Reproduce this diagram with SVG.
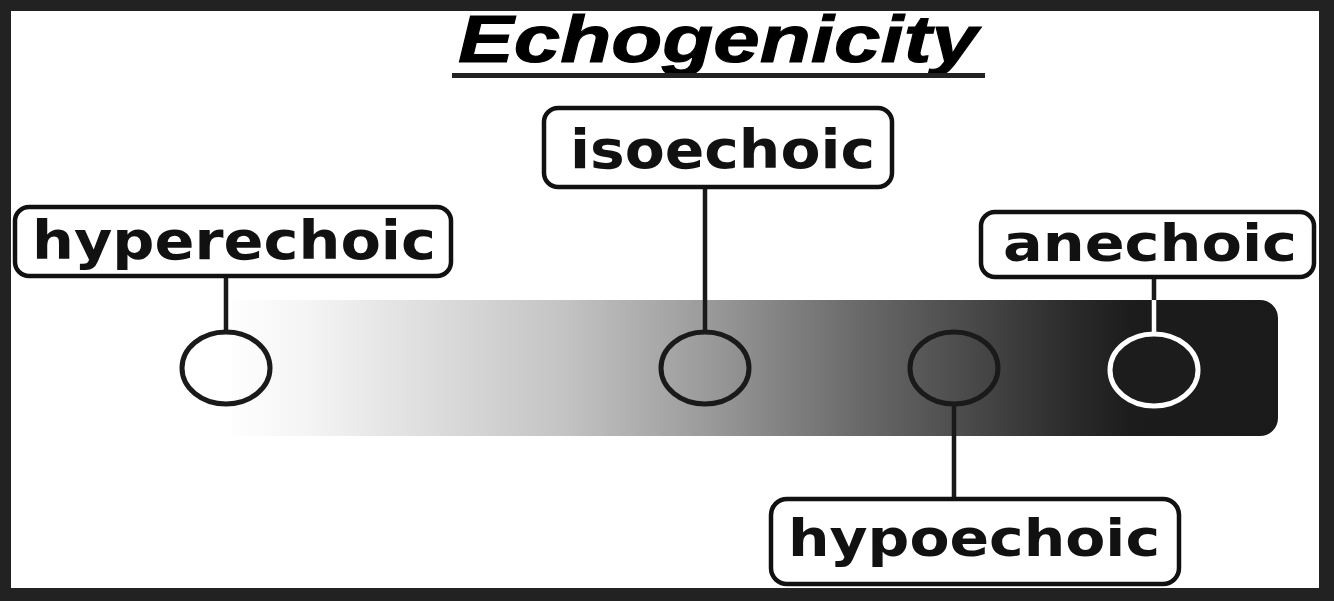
<svg xmlns="http://www.w3.org/2000/svg" width="1334" height="601" viewBox="0 0 1334 601">
  <style>
    .box { fill: #ffffff; stroke: #111111; stroke-width: 4.5; }
    .lbl { font-family: "DejaVu Sans", "Noto Sans", sans-serif; font-weight: bold; fill: #111111; }
    .link { stroke: #1a1a1a; stroke-width: 4.5; fill: none; }
    .dot { fill: none; stroke: #1a1a1a; stroke-width: 5; }
  </style>
  <defs>
    <linearGradient id="echo" x1="225" y1="0" x2="1278" y2="0" gradientUnits="userSpaceOnUse">
      <stop offset="0" stop-color="#ffffff"/>
      <stop offset="0.08" stop-color="#f4f4f4"/>
      <stop offset="0.32" stop-color="#c4c4c4"/>
      <stop offset="0.46" stop-color="#9a9a9a"/>
      <stop offset="0.6" stop-color="#6a6a6a"/>
      <stop offset="0.7" stop-color="#4c4c4c"/>
      <stop offset="0.8" stop-color="#2c2c2c"/>
      <stop offset="0.86" stop-color="#1c1c1c"/>
      <stop offset="1" stop-color="#1a1a1a"/>
    </linearGradient>
  </defs>

  <rect x="0" y="0" width="1334" height="601" fill="#222222"/>
  <rect x="11" y="11" width="1308" height="577" fill="#ffffff"/>

  <g id="title">
    <text x="458" y="62" font-family="'Liberation Sans', Arial, sans-serif" font-weight="bold" font-style="italic" font-size="66" fill="#000" stroke="#000" stroke-width="1" textLength="520" lengthAdjust="spacingAndGlyphs">Echogenicity</text>
    <rect x="452" y="73" width="533" height="5" fill="#222"/>
  </g>

  <g id="scale">
    <path d="M225,300 H1260 A18,18 0 0 1 1278,318 V418 A18,18 0 0 1 1260,436 H225 Z" fill="url(#echo)"/>
  </g>

  <g id="connectors">
    <line class="link" x1="226" y1="276" x2="226" y2="332"/>
    <line class="link" x1="705" y1="188" x2="705" y2="332"/>
    <line class="link" x1="954" y1="404" x2="954" y2="498"/>
    <line class="link" x1="1154" y1="278" x2="1154" y2="300"/>
    <line x1="1154" y1="300" x2="1154" y2="334" stroke="#ffffff" stroke-width="4.5"/>
  </g>

  <g id="hyperechoic">
    <ellipse class="dot" cx="226" cy="368" rx="44" ry="36"/>
    <rect class="box" x="15" y="207" width="436" height="69" rx="14"/>
    <text class="lbl" x="32" y="259" font-size="54" textLength="404" lengthAdjust="spacingAndGlyphs">hyperechoic</text>
  </g>

  <g id="isoechoic">
    <ellipse class="dot" cx="705" cy="368" rx="44" ry="36"/>
    <rect class="box" x="544" y="108" width="348" height="79" rx="14"/>
    <text class="lbl" x="570" y="168" font-size="53" textLength="305" lengthAdjust="spacingAndGlyphs">isoechoic</text>
  </g>

  <g id="hypoechoic">
    <ellipse class="dot" cx="954" cy="368" rx="44" ry="36"/>
    <rect class="box" x="771" y="499" width="408" height="85" rx="16"/>
    <text class="lbl" x="788" y="556" font-size="52" textLength="372" lengthAdjust="spacingAndGlyphs">hypoechoic</text>
  </g>

  <g id="anechoic">
    <ellipse cx="1154" cy="370" rx="44" ry="36" fill="#1c1c1c" stroke="#ffffff" stroke-width="5"/>
    <rect class="box" x="981" y="212" width="333" height="65" rx="14"/>
    <text class="lbl" x="1003" y="261" font-size="52" textLength="294" lengthAdjust="spacingAndGlyphs">anechoic</text>
  </g>
</svg>
